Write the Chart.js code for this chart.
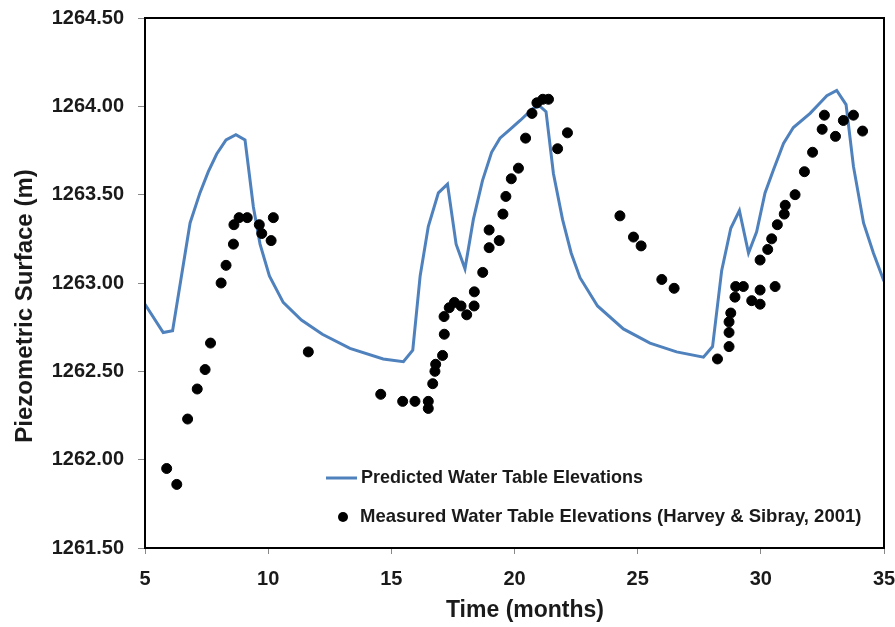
<!DOCTYPE html>
<html>
<head>
<meta charset="utf-8">
<script src="https://cdn.jsdelivr.net/npm/chart.js@4.4.1/dist/chart.umd.min.js"></script>
<style>
  html, body { margin: 0; padding: 0; background: #fff; }
  #wrap { width: 895px; height: 627px; position: relative; }
</style>
</head>
<body>
<div id="wrap"><canvas id="myChart" width="895" height="627"></canvas></div>
<script>
// predicted water table (model line)
var predX = [5.00, 5.74, 6.12, 6.83, 7.23, 7.57, 7.91, 8.29, 8.69, 9.06, 9.40, 9.67, 10.05, 10.61, 11.35, 12.20, 13.32, 14.67, 15.49, 15.87,
    16.17, 16.50, 16.91, 17.28, 17.63, 17.99, 18.33, 18.70, 19.07, 19.41, 19.82, 20.23, 20.76, 21.04, 21.28, 21.58, 21.95, 22.30, 22.66, 23.37,
    24.42, 25.50, 26.58, 27.67, 28.04, 28.41, 28.78, 29.13, 29.50, 29.83, 30.17, 30.51, 30.92, 31.32, 32.00, 32.41, 32.68, 33.08, 33.46, 33.76,
    34.17, 34.57, 35.00];
var predY = [1262.88, 1262.72, 1262.73, 1263.34, 1263.51, 1263.63, 1263.73, 1263.81, 1263.84, 1263.81, 1263.43, 1263.22, 1263.04, 1262.89, 1262.79, 1262.71, 1262.63, 1262.57, 1262.555, 1262.62,
    1263.04, 1263.32, 1263.51, 1263.56, 1263.22, 1263.08, 1263.36, 1263.58, 1263.74, 1263.82, 1263.87, 1263.92, 1263.99, 1264.00, 1263.97, 1263.62, 1263.36, 1263.17, 1263.03, 1262.87,
    1262.74, 1262.66, 1262.61, 1262.58, 1262.64, 1263.07, 1263.31, 1263.41, 1263.17, 1263.29, 1263.51, 1263.64, 1263.79, 1263.88, 1263.96, 1264.02, 1264.06, 1264.09, 1264.01, 1263.66,
    1263.34, 1263.17, 1263.01];

// measured (Harvey & Sibray, 2001)
var measX = [5.88, 6.29, 6.73, 7.12, 7.44, 7.66, 8.09, 8.29, 8.59, 8.61, 8.82, 9.15, 9.64, 9.74, 10.12, 10.21, 11.63,
    14.57, 15.46, 15.96, 16.50, 16.50, 16.68, 16.77, 16.80, 17.08, 17.15, 17.14, 17.35, 17.56, 17.83, 18.06, 18.36, 18.37, 18.71,
    18.97, 18.97, 19.38, 19.53, 19.65, 19.87, 20.16, 20.45, 20.71, 20.91, 21.15, 21.38, 21.75, 22.15,
    24.28, 24.83, 25.14, 25.98, 26.48,
    28.24, 28.71, 28.71, 28.71, 28.78, 28.95, 28.98, 29.29, 29.63, 29.97, 29.97, 30.58, 29.97, 30.28, 30.44, 30.67, 30.95, 30.99,
    31.39, 31.77, 32.10, 32.49, 32.58, 33.03, 33.35, 33.76, 34.13];
var measY = [1261.95, 1261.86, 1262.23, 1262.40, 1262.51, 1262.66, 1263.00, 1263.10, 1263.22, 1263.33, 1263.37, 1263.37, 1263.33, 1263.28, 1263.24, 1263.37, 1262.61,
    1262.37, 1262.33, 1262.33, 1262.33, 1262.29, 1262.43, 1262.50, 1262.54, 1262.59, 1262.71, 1262.81, 1262.86, 1262.89, 1262.87, 1262.82, 1262.87, 1262.95, 1263.06,
    1263.20, 1263.30, 1263.24, 1263.39, 1263.49, 1263.59, 1263.65, 1263.82, 1263.96, 1264.02, 1264.04, 1264.04, 1263.76, 1263.85,
    1263.38, 1263.26, 1263.21, 1263.02, 1262.97,
    1262.57, 1262.64, 1262.72, 1262.78, 1262.83, 1262.92, 1262.98, 1262.98, 1262.90, 1262.96, 1262.88, 1262.98, 1263.13, 1263.19, 1263.25, 1263.33, 1263.39, 1263.44,
    1263.50, 1263.63, 1263.74, 1263.87, 1263.95, 1263.83, 1263.92, 1263.95, 1263.86];

var xTicks = [5, 10, 15, 20, 25, 30, 35];
var yTicks = [1261.5, 1262.0, 1262.5, 1263.0, 1263.5, 1264.0, 1264.5];

var predLabel = 'Predicted Water Table Elevations';
var measLabel = 'Measured Water Table Elevations (Harvey & Sibray, 2001)';
var xTitle = 'Time (months)';
var yTitle = 'Piezometric Surface (m)';

function toPoints(xs, ys) {
    var pts = [];
    for (var i = 0; i < xs.length; i++) {
        pts.push({ x: xs[i], y: ys[i] });
    }
    return pts;
}

// no extra room for the overflowing tick labels, padding below does it
function noPad(s) {
    s.paddingLeft = 0;
    s.paddingRight = 0;
    s.paddingTop = 0;
    s.paddingBottom = 0;
}

var fontFam = '"Liberation Sans", Arial, sans-serif';
var textCol = '#1a1a1a';

// frame round the plot, axis titles and the little legend inside it
var framePlugin = {
    id: 'frame',
    afterDraw: function (chart) {
        var ctx = chart.ctx;
        var a = chart.chartArea;
        ctx.save();
        ctx.strokeStyle = '#000';
        ctx.lineWidth = 2;
        ctx.strokeRect(a.left, a.top, a.right - a.left, a.bottom - a.top);

        // axis titles
        ctx.fillStyle = textCol;
        ctx.textAlign = 'center';
        ctx.textBaseline = 'middle';
        ctx.font = 'bold 23px ' + fontFam;
        ctx.fillText(xTitle, a.left + 380, 611);
        ctx.save();
        ctx.translate(25, a.top + 288);
        ctx.rotate(-Math.PI / 2);
        ctx.font = 'bold 24px ' + fontFam;
        ctx.fillText(yTitle, 0, 0);
        ctx.restore();

        var line = chart.data.datasets[0];
        var dots = chart.data.datasets[1];
        var lx = a.left + 181, ty = a.top + 460;
        ctx.strokeStyle = line.borderColor;
        ctx.lineWidth = line.borderWidth;
        ctx.beginPath();
        ctx.moveTo(lx, ty);
        ctx.lineTo(lx + 31, ty);
        ctx.stroke();
        ctx.fillStyle = dots.backgroundColor;
        ctx.beginPath();
        ctx.arc(lx + 17, ty + 39, dots.pointRadius, 0, Math.PI * 2);
        ctx.fill();

        ctx.fillStyle = textCol;
        ctx.font = 'bold 18px ' + fontFam;
        ctx.textAlign = 'left';
        ctx.fillText(line.label, lx + 35, ty);
        ctx.font = 'bold 18.5px ' + fontFam;
        ctx.fillText(dots.label, lx + 34, ty + 39);
        ctx.restore();
    }
};

var ctx = document.getElementById('myChart').getContext('2d');
var myChart = new Chart(ctx, {
    type: 'scatter',
    data: {
        datasets: [
            {
                label: predLabel,
                data: toPoints(predX, predY),
                showLine: true,
                borderColor: '#4f81bd',
                borderWidth: 3,
                pointRadius: 0,
                tension: 0,
                order: 2
            },
            {
                label: measLabel,
                data: toPoints(measX, measY),
                showLine: false,
                backgroundColor: '#000',
                borderColor: '#000',
                pointRadius: 5,
                order: 1
            }]
    },
    options: {
        responsive: false,
        animation: false,
        layout: { autoPadding: false, padding: { left: 0, right: 11, top: 18, bottom: 0 } },
        plugins: {
            legend: { display: false },
            tooltip: { enabled: false }
        },
        scales: {
            x: {
                type: 'linear',
                min: 5,
                max: 35,
                afterBuildTicks: function (s) { s.ticks = xTicks.map(function (v) { return { value: v }; }); },
                afterFit: function (s) { s.height = 79; noPad(s); },
                grid: { drawOnChartArea: false, drawTicks: true, tickLength: 6, color: '#888' },
                border: { display: false },
                ticks: {
                    color: textCol,
                    padding: 13,
                    font: { family: fontFam, size: 20, weight: 'bold' }
                }
            },
            y: {
                min: 1261.5,
                max: 1264.5,
                afterBuildTicks: function (s) { s.ticks = yTicks.map(function (v) { return { value: v }; }); },
                afterFit: function (s) { s.width = 145; noPad(s); },
                grid: { drawOnChartArea: false, drawTicks: true, tickLength: 7, color: '#888' },
                border: { display: false },
                ticks: {
                    color: textCol,
                    padding: 14,
                    font: { family: fontFam, size: 20, weight: 'bold' },
                    callback: function (v) { return Number(v).toFixed(2); }
                }
            }
        }
    },
    plugins: [framePlugin]
});
</script>
</body>
</html>
